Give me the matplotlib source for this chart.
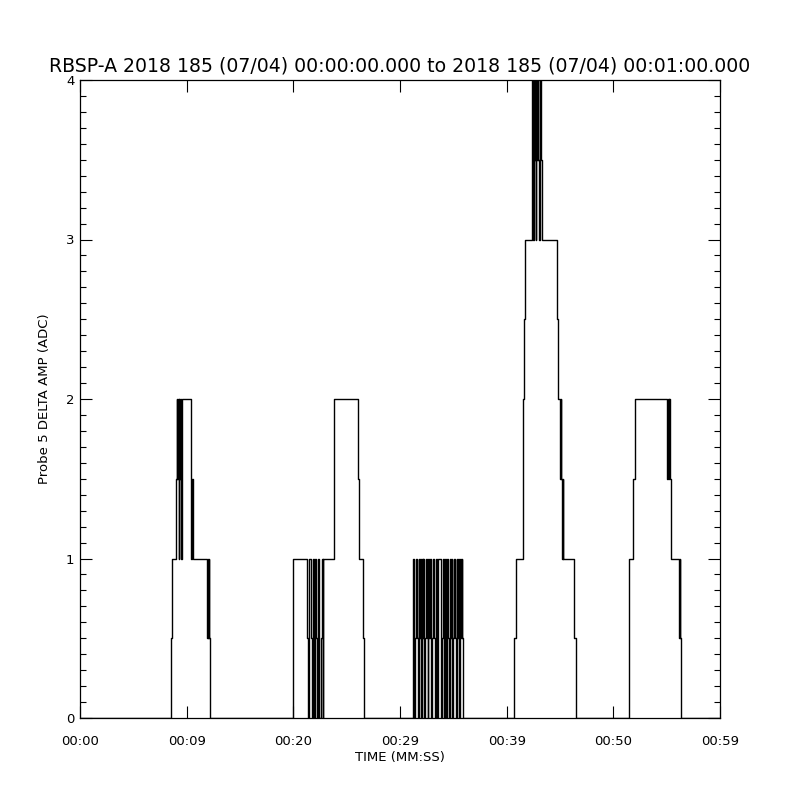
import matplotlib
matplotlib.use("Agg")
import matplotlib.pyplot as plt
from matplotlib.ticker import MultipleLocator, FixedLocator, FixedFormatter

# ---- data: step transitions (seconds, ADC value) for each burst ----
t_burst1 = [8.50, 8.60, 9.00, 9.06, 9.13, 9.18, 9.25, 9.30, 9.38, 9.43, 9.50, 9.57,
            10.38, 10.45, 10.50, 10.56, 11.94, 11.98, 12.03, 12.08, 12.13, 12.19]
v_burst1 = [0.5, 1.0, 1.5, 2.0, 1.5, 2.0, 1.0, 2.0, 1.5, 2.0, 1.0, 2.0,
            1.5, 1.0, 1.5, 1.0, 0.5, 1.0, 0.5, 1.0, 0.5, 0.0]

t_burst2 = [20.00, 21.31, 21.41, 21.50, 21.63, 21.72, 21.81, 21.91, 22.03, 22.13,
            22.25, 22.34, 22.44, 22.56, 22.66, 22.75, 22.81, 23.78, 26.09, 26.16,
            26.56, 26.65]
v_burst2 = [1.0, 0.5, 0.0, 1.0, 0.5, 0.0, 1.0, 0.0, 1.0, 0.5,
            0.0, 1.0, 0.0, 0.5, 1.0, 0.0, 1.0, 2.0, 1.5, 1.0,
            0.5, 0.0]

t_burst3 = [31.25, 31.30, 31.34, 31.45, 31.50, 31.60, 31.66, 31.75, 31.80, 31.88,
            31.97, 32.03, 32.12, 32.19, 32.28, 32.34, 32.41, 32.50, 32.59, 32.66,
            32.75, 32.82, 32.88, 33.03, 33.10, 33.19, 33.27, 33.34, 33.44, 33.50,
            33.59, 33.84, 33.90, 34.00, 34.08, 34.16, 34.22, 34.28, 34.37, 34.44,
            34.52, 34.59, 34.66, 34.75, 34.83, 34.91, 35.00, 35.06, 35.14, 35.22,
            35.30, 35.38, 35.45, 35.53, 35.60, 35.69, 35.77, 35.84, 35.94]
v_burst3 = [1.0, 0.5, 0.0, 0.5, 1.0, 0.5, 0.0, 1.0, 0.5, 1.0,
            0.0, 1.0, 0.5, 1.0, 0.0, 0.5, 1.0, 0.5, 0.0, 1.0,
            0.5, 1.0, 0.0, 0.5, 1.0, 0.5, 0.0, 1.0, 0.5, 0.0,
            1.0, 0.0, 0.5, 1.0, 0.5, 0.0, 1.0, 0.0, 0.5, 1.0,
            0.5, 0.0, 1.0, 0.5, 1.0, 0.0, 0.5, 1.0, 0.5, 0.0,
            1.0, 0.5, 1.0, 0.0, 1.0, 0.5, 1.0, 0.5, 0.0]

t_burst4 = [40.71, 40.84, 41.50, 41.56, 41.62, 41.72, 42.35, 42.40, 42.47, 42.53,
            42.58, 42.66, 42.72, 42.78, 42.84, 42.90, 42.97, 43.05, 43.12, 43.20,
            43.27, 43.37, 44.75, 44.84, 45.00, 45.06, 45.12, 45.20, 45.25, 45.31,
            46.34, 46.47]
v_burst4 = [0.5, 1.0, 1.5, 2.0, 2.5, 3.0, 3.5, 4.0, 3.0, 4.0,
            3.5, 4.0, 3.0, 4.0, 3.5, 4.0, 3.5, 3.0, 4.0, 3.5,
            3.0, 3.0, 2.5, 2.0, 1.5, 2.0, 1.5, 1.0, 1.5, 1.0,
            0.5, 0.0]

t_burst5 = [51.50, 51.88, 52.06, 55.06, 55.12, 55.19, 55.25, 55.31, 55.38,
            56.18, 56.22, 56.26, 56.30]
v_burst5 = [1.0, 1.5, 2.0, 1.5, 2.0, 1.5, 2.0, 1.5, 1.0,
            0.5, 1.0, 0.5, 0.0]

x_ticks = [0, 10, 20, 30, 40, 50, 60]
x_tick_labels = ["00:00", "00:09", "00:20", "00:29", "00:39", "00:50", "00:59"]
y_ticks = [0, 1, 2, 3, 4]

title = "RBSP-A 2018 185 (07/04) 00:00:00.000 to 2018 185 (07/04) 00:01:00.000"

times = [0.0] + t_burst1 + t_burst2 + t_burst3 + t_burst4 + t_burst5 + [60.0]
values = [0.0] + v_burst1 + v_burst2 + v_burst3 + v_burst4 + v_burst5 + [0.0]

fig = plt.figure(figsize=(8, 8), dpi=100)
ax = fig.add_axes([0.1, 0.1025, 0.8, 0.7975])

ax.step(times, values, where="post", color="black", linewidth=1.0)

ax.set_xlim(0, 60)
ax.set_ylim(0, 4)

ax.xaxis.set_major_locator(FixedLocator(x_ticks))
ax.xaxis.set_major_formatter(FixedFormatter(x_tick_labels))
ax.yaxis.set_major_locator(FixedLocator(y_ticks))
ax.yaxis.set_major_formatter(FixedFormatter([str(v) for v in y_ticks]))
ax.yaxis.set_minor_locator(MultipleLocator(0.1))

ax.tick_params(which="both", direction="in", top=True, right=True, width=0.8, colors="black")
ax.tick_params(which="major", length=8.5)
ax.tick_params(which="minor", length=4.3)
ax.tick_params(axis="x", labelsize=9.5, pad=12)
ax.tick_params(axis="y", labelsize=9.5, pad=4)

for sp in ax.spines.values():
    sp.set_linewidth(0.9)

ax.set_xlabel("TIME (MM:SS)", fontsize=9.5)
ax.xaxis.set_label_coords(0.5, -0.052)
ax.set_ylabel("Probe 5 DELTA AMP (ADC)", fontsize=9.5)
ax.yaxis.set_label_coords(-0.045, 0.5)
ax.set_title(title, fontsize=13.6, pad=6)

fig.savefig("out.png", dpi=100, facecolor="white")
